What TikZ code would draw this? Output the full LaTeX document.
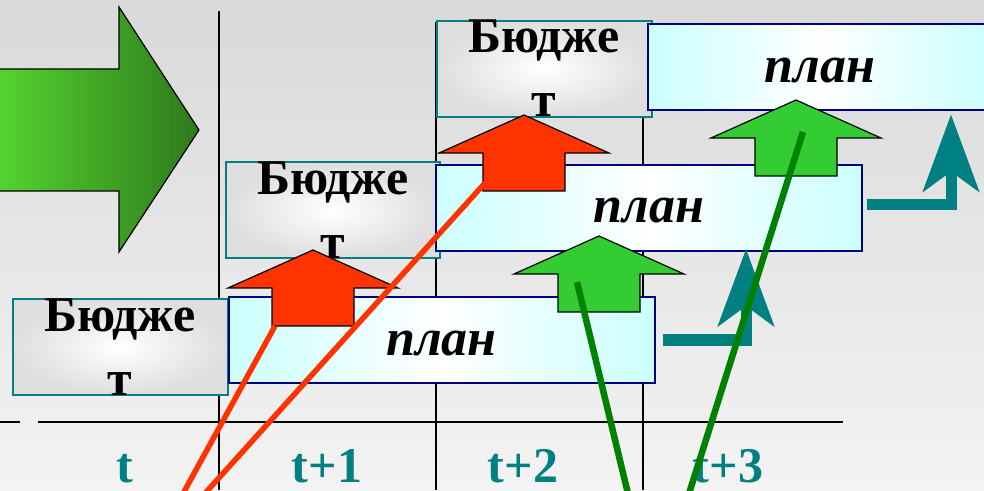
\documentclass[tikz,border=0pt]{standalone}
\usepackage{fontspec}
\setmainfont{Liberation Serif}
\usetikzlibrary{arrows.meta}
\definecolor{bgtop}{RGB}{217,217,217}
\definecolor{bgbottom}{RGB}{243,243,243}
\definecolor{budgetteal}{RGB}{0,128,128}
\definecolor{budgetgray}{RGB}{222,222,222}
\definecolor{plannavy}{RGB}{0,0,128}
\definecolor{plancyan}{RGB}{204,255,255}
\definecolor{redfill}{RGB}{255,51,0}
\definecolor{greenfill}{RGB}{51,204,51}
\definecolor{linegreen}{RGB}{0,128,0}
\definecolor{biglight}{RGB}{85,213,47}
\definecolor{bigdark}{RGB}{46,122,28}

\begin{document}
\begin{tikzpicture}[x=1pt, y=1pt,
  budget/.style={rectangle, draw=budgetteal, line width=2pt, inner color=white, outer color=budgetgray, minimum width=215pt, minimum height=92pt, inner sep=0pt, align=center, text height=96pt, text depth=-4pt, font=\fontsize{50}{64}\selectfont\bfseries},
  plan/.style={rectangle, draw=plannavy, line width=2pt, left color=plancyan, right color=plancyan, middle color=white, minimum width=426pt, minimum height=86pt, inner sep=0pt, text height=30pt, text depth=0pt, font=\fontsize{52}{60}\selectfont\bfseries\itshape},
  period/.style={anchor=base, inner sep=0pt, text depth=0pt, text=budgetteal, font=\fontsize{50}{60}\selectfont\bfseries},
  timeline/.style={draw=black, line width=1.5pt},
  block/.style={draw=black, line width=1.2pt},
  elbow/.style={draw=budgetteal, line width=11pt, line join=miter, -{Stealth[length=77pt, width=56pt, inset=20pt]}},
  link/.style={line width=5.5pt},
  blockup/.pic={
    \path[block, fill=#1] (0,0) -- (85,-38) -- (41,-38) -- (41,-76) -- (-41,-76) -- (-41,-38) -- (-85,-38) -- cycle;
    \coordinate (-tip) at (0,0);
  }
]
\path[use as bounding box] (0,0) rectangle (984,490);
\clip (0,0) rectangle (984,490);
\shade[top color=bgtop, bottom color=bgbottom] (0,0) rectangle (984,490);

\draw[timeline] (219,479) -- (219,0);
\draw[timeline] (436,468) -- (436,0);
\draw[timeline] (643,376) -- (643,0);
\draw[timeline] (38,68) -- (843,68);
\draw[timeline] (0,68) -- (20,68);

\path[block, left color=biglight, right color=bigdark] (-5,421) -- (119,421) -- (119,483) -- (199,360) -- (119,238) -- (119,299) -- (-5,299) -- cycle;

\node[budget] (budget1) at (120,143) {Бюдже\\т};
\node[budget, minimum width=214pt] (budget2) at (333,279.5) {Бюдже\\т};
\node[budget] (budget3) at (544,421) {Бюдже\\т};
\node[plan] (plan1) at (441.5,150) {план};
\node[plan] (plan2) at (649,282) {план};
\node[plan, minimum width=344pt] (plan3) at (820,422.5) {план};

\pic (redA) at (313,240) {blockup=redfill};
\pic (redB) at (524,375) {blockup=redfill};
\pic (greenA) at (599,254) {blockup=greenfill};
\pic (greenB) at (796,390) {blockup=greenfill};

\draw[elbow] ([xshift=7pt]plan1.east) -| ([xshift=311pt,yshift=3pt]plan2.south west);
\draw[elbow] ([xshift=4pt,yshift=3pt]plan2.east) -| ([xshift=304pt,yshift=-3pt]plan3.south west);

\node[period] (tnow) at (125,8) {t};
\node[period] (tone) at (327,8) {t+1};
\node[period] (ttwo) at (523,8) {t+2};
\node[period] (tthree) at (728,8) {t+3};

\coordinate (redAend) at (179.5,-10);
\coordinate (redBend) at (199,-10);
\coordinate (greenAend) at (629.5,-10);
\coordinate (greenBend) at (687,-10);
\draw[link, redfill] ([shift={(-38,-76)}]redA-tip) -- (redAend);
\draw[link, redfill] ([shift={(-39,-68)}]redB-tip) -- (redBend);
\draw[link, linegreen, line width=6.5pt] ([shift={(-22,-46)}]greenA-tip) -- (greenAend);
\draw[link, linegreen, line width=6.5pt] ([shift={(7,-32)}]greenB-tip) -- (greenBend);
\end{tikzpicture}
\end{document}
